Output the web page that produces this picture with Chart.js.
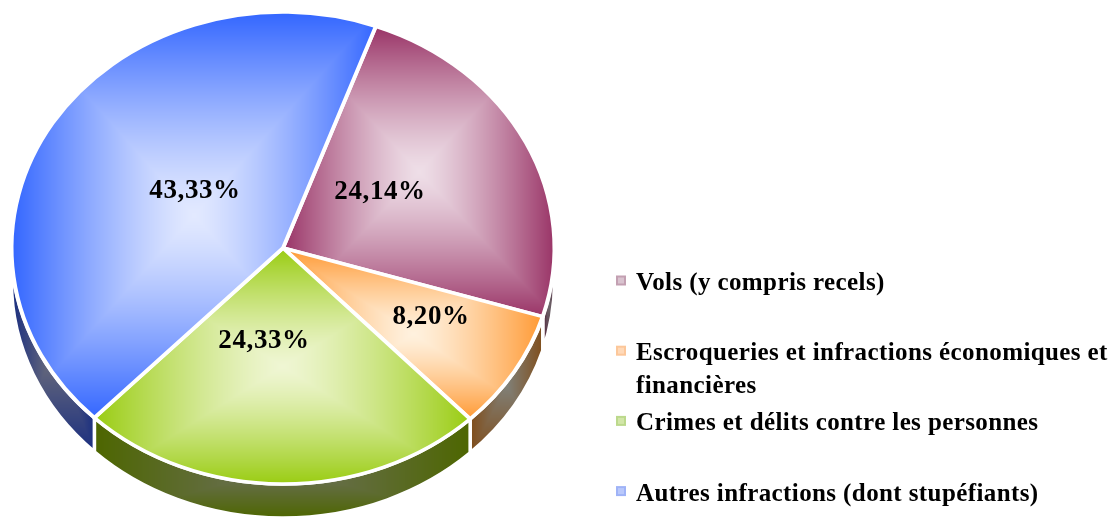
<!DOCTYPE html>
<html lang="fr">
<head>
<meta charset="utf-8">
<style>html,body{margin:0;padding:0;background:#fff;overflow:hidden}canvas{display:block}</style>
<script src="https://cdn.jsdelivr.net/npm/chart.js@4/dist/chart.umd.min.js"></script>
</head>
<body>
<canvas id="c" width="1115" height="517"></canvas>
<script>
const categories = ['Vols (y compris recels)', 'Escroqueries et infractions économiques et financières', 'Crimes et délits contre les personnes', 'Autres infractions (dont stupéfiants)'];
const shares = [24.14, 8.20, 24.33, 43.33];
const shareLabels = ['24,14%', '8,20%', '24,33%', '43,33%'];

const W = 1115, H = 517;
const RY = 236, RX = 271.5, DEPTH = 34, ROT = 20;
const SX = RX / RY;
const faceEdge = [[0x99,0x33,0x66],[0xff,0x99,0x33],[0x99,0xcc,0x11],[0x33,0x66,0xff]];
const faceCore = [[0xee,0xde,0xe7],[0xff,0xf1,0xde],[0xef,0xf6,0xd3],[0xe2,0xe9,0xff]];
const sideEdge = [[0x4d,0x1a,0x33],[0x80,0x4d,0x1a],[0x4d,0x66,0x00],[0x1a,0x2e,0x80]];
const sideCore = [[0x72,0x70,0x72],[0x80,0x80,0x78],[0x6e,0x70,0x60],[0x70,0x70,0x7a]];
const markerFill = ['#d9c3cf','#ffd9b8','#d2e6a8','#b9c8fb'];
const markerLine = ['#c3a0b2','#fcc79a','#bcd98c','#9fb3f7'];
const labelOffsets = [[97,-56],[148,69],[-19,93],[-88,-57]];

function rectGradPattern(ctx, box, edge, core, matrix, ease) {
  const x0 = Math.floor(box.x0) - 5, y0 = Math.floor(box.y0) - 5;
  const w = Math.ceil(box.x1 - box.x0) + 10, h = Math.ceil(box.y1 - box.y0) + 10;
  const mx = (box.x0 + box.x1) / 2, my = (box.y0 + box.y1) / 2;
  const hw = (box.x1 - box.x0) / 2 || 1, hh = (box.y1 - box.y0) / 2 || 1;
  const off = document.createElement('canvas');
  off.width = W; off.height = H + 20;
  const octx = off.getContext('2d');
  const img = octx.createImageData(w, h);
  for (let j = 0; j < h; j++) for (let i = 0; i < w; i++) {
    const r = Math.min(1, Math.max(Math.abs(x0 + i - mx) / hw, Math.abs(y0 + j - my) / hh));
    const t = Math.pow(r, ease);
    const k = (j * w + i) * 4;
    for (let c = 0; c < 3; c++) img.data[k + c] = core[c] + (edge[c] - core[c]) * t;
    img.data[k + 3] = 255;
  }
  octx.putImageData(img, x0, y0);
  const p = ctx.createPattern(off, 'no-repeat');
  if (matrix) p.setTransform(matrix);
  return p;
}
function angleSpans() {
  const total = shares.reduce((a, b) => a + b, 0);
  let a = (ROT - 90) * Math.PI / 180;
  return shares.map(v => { const s = a; a += v / total * 2 * Math.PI; return [s, a]; });
}
function arcBox(cx, cy, s, e, withCentre) {
  const pts = [s, e];
  for (let k = -4; k <= 8; k++) { const q = k * Math.PI / 2; if (q > s && q < e) pts.push(q); }
  const xs = pts.map(q => cx + RX * Math.cos(q)), ys = pts.map(q => cy + RY * Math.sin(q));
  if (withCentre) { xs.push(cx); ys.push(cy); }
  return { x0: Math.min(...xs), x1: Math.max(...xs), y0: Math.min(...ys), y1: Math.max(...ys) };
}
function faceMatrixInverse(cx, cy) {
  return new DOMMatrix().translate(cx, cy).scale(1 / SX, 1).translate(-cx, -cy);
}

const pie3d = {
  id: 'pie3d',
  beforeDatasetDraw(chart) {
    const ctx = chart.ctx, meta = chart.getDatasetMeta(0), el0 = meta.data[0];
    const cx = el0.x, cy = el0.y;
    ctx.save();
    meta.data.forEach((el, i) => {
      const a = Math.max(el.startAngle, 0), b = Math.min(el.endAngle, Math.PI);
      if (el.endAngle <= 0 || b <= a) return;
      const box = arcBox(cx, cy, a, b, false);
      box.y1 += DEPTH;
      ctx.beginPath();
      ctx.ellipse(cx, cy, RX, RY, 0, a, b);
      ctx.ellipse(cx, cy + DEPTH, RX, RY, 0, b, a, true);
      ctx.closePath();
      ctx.fillStyle = rectGradPattern(ctx, box, sideEdge[i], sideCore[i], null, 1);
      ctx.fill();
      ctx.lineWidth = 3.5;
      ctx.strokeStyle = '#fff';
      ctx.stroke();
    });
    ctx.restore();
    ctx.save();
    ctx.translate(cx, cy); ctx.scale(SX, 1); ctx.translate(-cx, -cy);
  },
  afterDatasetDraw(chart) { chart.ctx.restore(); },
  afterDraw(chart) {
    const ctx = chart.ctx, el0 = chart.getDatasetMeta(0).data[0];
    ctx.save();
    ctx.fillStyle = '#000';
    ctx.textBaseline = 'middle';
    ctx.textAlign = 'center';
    ctx.letterSpacing = '0.6px';
    ctx.font = 'bold 27px "Liberation Serif"';
    shareLabels.forEach((t, i) => {
      ctx.fillText(t, el0.x + labelOffsets[i][0], el0.y + labelOffsets[i][1]);
    });
    ctx.textAlign = 'left';
    ctx.letterSpacing = '0.4px';
    ctx.font = 'bold 25px "Liberation Serif"';
    chart.data.labels.forEach((label, i) => {
      const y = 283.5 + 70.2 * i;
      ctx.fillStyle = markerFill[i];
      ctx.strokeStyle = markerLine[i];
      ctx.lineWidth = 2;
      ctx.fillRect(617, y - 7, 8, 8);
      ctx.strokeRect(617, y - 7, 8, 8);
      ctx.fillStyle = '#000';
      const words = label.split(' ');
      let line = '', ly = y;
      words.forEach(w => {
        const next = line ? line + ' ' + w : w;
        if (ctx.measureText(next).width > 478 && line) {
          ctx.fillText(line, 636, ly); ly += 33; line = w;
        } else line = next;
      });
      ctx.fillText(line, 636, ly);
    });
    ctx.restore();
  }
};

new Chart(document.getElementById('c'), {
  type: 'pie',
  data: {
    labels: categories,
    datasets: [{
      data: shares,
      clip: false,
      borderColor: '#fff',
      borderWidth: 3.5,
      borderJoinStyle: 'round',
      backgroundColor(c) {
        const area = c.chart.chartArea;
        if (!area) return '#ccc';
        const cx = (area.left + area.right) / 2, cy = (area.top + area.bottom) / 2;
        const [s, e] = angleSpans()[c.dataIndex];
        return rectGradPattern(c.chart.ctx, arcBox(cx, cy, s, e, true), faceEdge[c.dataIndex], faceCore[c.dataIndex], faceMatrixInverse(cx, cy), 1.3);
      }
    }]
  },
  options: {
    responsive: false,
    devicePixelRatio: 1,
    animation: false,
    events: [],
    rotation: ROT,
    radius: RY,
    layout: { padding: { left: 12, right: W - 554, top: 12, bottom: H - 484 } },
    plugins: { legend: { display: false }, tooltip: { enabled: false }, title: { display: false } }
  },
  plugins: [pie3d]
});
</script>
</body>
</html>
